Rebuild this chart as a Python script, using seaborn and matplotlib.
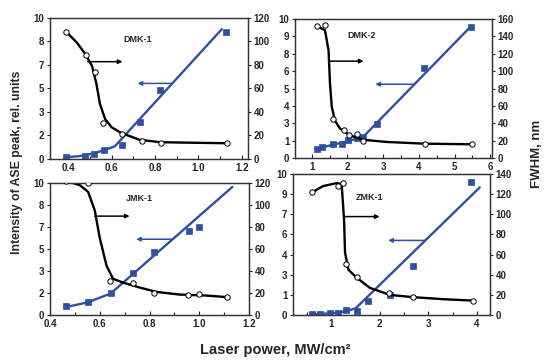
import numpy as np
import matplotlib
matplotlib.use("Agg")
import matplotlib.pyplot as plt
import seaborn as sns
from matplotlib.ticker import MultipleLocator, FormatStrFormatter

sns.set_theme(style="ticks")
plt.rcParams["font.family"] = ["Liberation Sans", "DejaVu Sans"]
plt.rcParams["font.weight"] = "bold"

BLUE = "#2F4FA2"

# ---------------- DMK-1 ----------------
dmk1_int_power = [0.388, 0.477, 0.52, 0.566, 0.646, 0.73, 0.823, 1.128]
dmk1_intensity = [0.17, 0.19, 0.36, 0.67, 1.0, 2.6, 4.9, 9.0]
dmk1_int_fit_power = [0.388, 0.45, 0.52, 0.57, 0.615, 1.108]
dmk1_int_fit = [0.12, 0.2, 0.4, 0.65, 0.9, 9.2]
dmk1_fw_power = [0.392, 0.48, 0.523, 0.56, 0.646, 0.738, 0.828, 1.13]
dmk1_fwhm = [108, 88.6, 74, 31, 21, 15, 14, 13.4]
dmk1_fw_fit_power = [0.392, 0.44, 0.48, 0.51, 0.53, 0.546, 0.57, 0.60, 0.646, 0.73, 0.823, 0.95, 1.13]
dmk1_fw_fit = [108, 99, 89, 79, 64, 47, 34, 27, 22, 16.3, 14.3, 13.9, 13.4]
dmk1_left_labels = ["0", "2", "3", "5", "7", "8", "10"]

# ---------------- DMK-2 ----------------
dmk2_int_power = [1.14, 1.28, 1.6, 1.86, 2.02, 2.26, 2.44, 2.82, 4.14, 5.47]
dmk2_intensity = [0.67, 0.8, 0.99, 0.99, 1.27, 1.47, 1.5, 2.48, 6.5, 9.45]
dmk2_int_fit_power = [1.14, 1.5, 2.0, 2.45, 5.47]
dmk2_int_fit = [0.65, 0.9, 1.2, 1.55, 9.5]
dmk2_fw_power = [1.14, 1.36, 1.59, 1.89, 2.03, 2.26, 2.43, 4.17, 5.48]
dmk2_fwhm = [152, 153, 45, 32, 26, 28, 20, 16.5, 15.8]
dmk2_fw_fit_power = [1.14, 1.37, 1.47, 1.51, 1.56, 1.65, 1.79, 2.07, 2.44, 3.09, 4.16, 5.47]
dmk2_fw_fit = [152, 147, 124, 86, 59, 43, 34, 26, 21, 18.5, 16.5, 15.8]
dmk2_left_labels = ["0", "1", "3", "4", "5", "6", "8", "9", "10"]

# ---------------- JMK-1 ----------------
jmk1_int_power = [0.463, 0.554, 0.645, 0.735, 0.82, 0.96, 1.0, 1.11]
jmk1_intensity = [0.7, 0.96, 1.63, 3.18, 4.78, 6.33, 6.64, 10.2]
jmk1_int_fit_power = [0.463, 0.55, 0.644, 1.133]
jmk1_int_fit = [0.6, 0.95, 1.63, 9.7]
jmk1_fw_power = [0.463, 0.554, 0.64, 0.733, 0.82, 0.955, 1.0, 1.11]
jmk1_fwhm = [122, 120, 31, 29.5, 19.6, 18.6, 19.3, 16.1]
jmk1_fw_fit_power = [0.463, 0.52, 0.553, 0.58, 0.60, 0.627, 0.653, 0.693, 0.76, 0.827, 0.92, 1.027, 1.12]
jmk1_fw_fit = [122, 118, 112, 95, 70, 45, 33, 29.5, 25, 21, 18.6, 17.7, 16.1]
jmk1_left_labels = ["0", "2", "3", "5", "7", "8", "10"]

# ---------------- ZMK-1 ----------------
zmk1_int_power = [0.62, 0.78, 0.98, 1.15, 1.32, 1.53, 1.77, 2.21, 2.68, 3.88]
zmk1_intensity = [0.07, 0.08, 0.12, 0.17, 0.36, 0.3, 1.0, 1.43, 3.5, 9.4]
zmk1_int_fit_power = [0.62, 1.0, 1.3, 1.51, 4.06]
zmk1_int_fit = [0.05, 0.12, 0.25, 0.48, 9.05]
zmk1_fw_power = [0.62, 1.15, 1.25, 1.31, 1.53, 2.2, 2.69, 3.92]
zmk1_fwhm = [122, 128, 131, 50.7, 38, 21.7, 17.7, 14.3]
zmk1_fw_fit_power = [0.62, 0.84, 1.12, 1.22, 1.27, 1.29, 1.36, 1.53, 1.8, 2.21, 2.69, 3.31, 3.92]
zmk1_fw_fit = [122, 128, 131, 130, 95, 62, 45, 37, 27, 20, 17.7, 15.7, 14.3]
zmk1_left_labels = ["0", "1", "3", "4", "6", "7", "9", "10"]

fig = plt.figure(figsize=(5.46, 3.61), dpi=100)
fig.patch.set_facecolor("white")

TICK_FS = 7


def draw_panel(rect, name, name_xy, xlim, xmajor, xminor, fwhm_max, left_labels,
               int_x, int_y, int_fit_x, int_fit_y,
               fw_x, fw_y, fw_fit_x, fw_fit_y,
               black_arrow, blue_arrow, xfmt):
    ax = fig.add_axes(rect)
    ax2 = ax.twinx()

    # intensity (left axis)
    sns.lineplot(x=int_fit_x, y=int_fit_y, ax=ax, color=BLUE, linewidth=1.7,
                 sort=False, errorbar=None)
    sns.scatterplot(x=int_x, y=int_y, ax=ax, marker="s", color=BLUE,
                    edgecolor=BLUE, s=20, linewidth=0.5, zorder=3)

    # FWHM (right axis)
    sns.lineplot(x=fw_fit_x, y=fw_fit_y, ax=ax2, color="black", linewidth=1.7,
                 sort=False, errorbar=None)
    sns.scatterplot(x=fw_x, y=fw_y, ax=ax2, marker="o", color="white",
                    edgecolor="black", s=15, linewidth=0.7, zorder=3)

    ax.set_xlim(*xlim)
    ax.set_ylim(0, 10)
    ax2.set_ylim(0, fwhm_max)

    ax.xaxis.set_major_locator(MultipleLocator(xmajor))
    ax.xaxis.set_minor_locator(MultipleLocator(xminor))
    ax.xaxis.set_major_formatter(FormatStrFormatter(xfmt))
    ax.set_yticks(np.linspace(0, 10, len(left_labels)))
    ax.set_yticklabels(left_labels)
    ax2.set_yticks(np.arange(0, fwhm_max + 1, 20))

    ax.tick_params(axis="x", which="both", direction="in", length=3,
                   width=0.8, labelsize=TICK_FS, pad=3, colors="#222222")
    ax.tick_params(axis="x", which="minor", length=2)
    ax.tick_params(axis="y", direction="out", length=2.5, width=0.8,
                   labelsize=TICK_FS, pad=1.5)
    ax2.tick_params(axis="y", direction="out", length=2.5, width=0.8,
                    labelsize=TICK_FS, pad=1.5)
    for a in (ax, ax2):
        for sp in a.spines.values():
            sp.set_linewidth(0.9)
            sp.set_color("#333333")
        for lab in a.get_xticklabels() + a.get_yticklabels():
            lab.set_fontweight("bold")
        a.set_xlabel("")
        a.set_ylabel("")

    ax.text(name_xy[0], name_xy[1], name, fontsize=6.5, fontweight="bold",
            ha="center", va="center")

    arrow_kw = dict(arrowstyle="-|>", mutation_scale=6, linewidth=1.1,
                    shrinkA=0, shrinkB=0)
    ax.annotate("", xy=(black_arrow[2], black_arrow[1]),
                xytext=(black_arrow[0], black_arrow[1]),
                arrowprops=dict(color="black", **arrow_kw))
    ax.annotate("", xy=(blue_arrow[2], blue_arrow[1]),
                xytext=(blue_arrow[0], blue_arrow[1]),
                arrowprops=dict(color=BLUE, **arrow_kw))
    return ax, ax2


draw_panel([0.0916, 0.5596, 0.3626, 0.3906], "DMK-1", (0.72, 8.45),
           (0.316, 1.229), 0.2, 0.1, 120, dmk1_left_labels,
           dmk1_int_power, dmk1_intensity, dmk1_int_fit_power, dmk1_int_fit,
           dmk1_fw_power, dmk1_fwhm, dmk1_fw_fit_power, dmk1_fw_fit,
           (0.49, 6.9, 0.65), (0.88, 5.36, 0.72), "%.1f")

draw_panel([0.5403, 0.5623, 0.3608, 0.385], "DMK-2", (2.4, 8.85),
           (0.53, 6.05), 1, 0.5, 160, dmk2_left_labels,
           dmk2_int_power, dmk2_intensity, dmk2_int_fit_power, dmk2_int_fit,
           dmk2_fw_power, dmk2_fwhm, dmk2_fw_fit_power, dmk2_fw_fit,
           (1.51, 6.97, 2.45), (3.85, 5.31, 2.78), "%.0f")

draw_panel([0.0916, 0.1274, 0.3645, 0.3657], "JMK-1", (0.76, 8.8),
           (0.4, 1.2), 0.2, 0.1, 120, jmk1_left_labels,
           jmk1_int_power, jmk1_intensity, jmk1_int_fit_power, jmk1_int_fit,
           jmk1_fw_power, jmk1_fwhm, jmk1_fw_fit_power, jmk1_fw_fit,
           (0.58, 7.49, 0.72), (0.893, 5.74, 0.746), "%.1f")

draw_panel([0.5366, 0.1274, 0.3608, 0.3906], "ZMK-1", (1.8, 8.33),
           (0.22, 4.27), 1, 0.5, 140, zmk1_left_labels,
           zmk1_int_power, zmk1_intensity, zmk1_int_fit_power, zmk1_int_fit,
           zmk1_fw_power, zmk1_fwhm, zmk1_fw_fit_power, zmk1_fw_fit,
           (1.29, 6.98, 2.0), (2.93, 5.29, 2.18), "%.0f")

fig.text(0.031, 0.55, "Intensity of ASE peak, rel. units", rotation=90,
         ha="center", va="center", fontsize=8.8, fontweight="bold")
fig.text(0.983, 0.575, "FWHM, nm", rotation=90, ha="center", va="center",
         fontsize=9.5, fontweight="bold")
fig.text(0.504, 0.03, "Laser power, MW/cm²", ha="center", va="center",
         fontsize=10.5, fontweight="bold")

fig.savefig("out.png", dpi=100, facecolor="white")
